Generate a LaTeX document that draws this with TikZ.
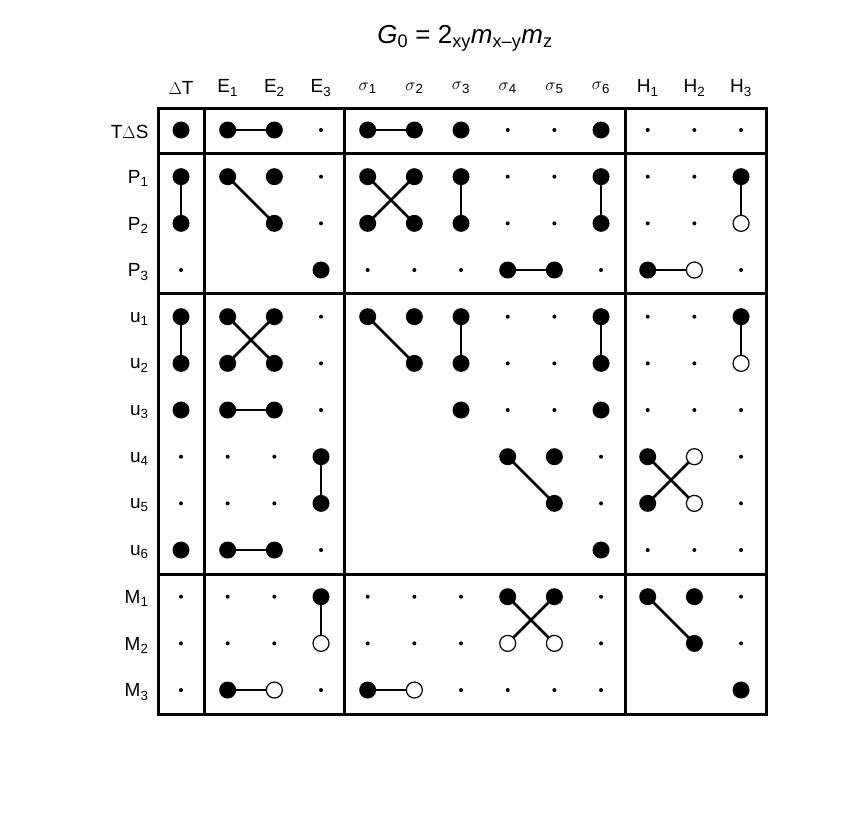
\documentclass[tikz,border=0pt]{standalone}
\usepackage{fontspec}
\setmainfont{Liberation Sans}
\usetikzlibrary{backgrounds}
\tikzset{
  cellb/.style={circle, fill=black, inner sep=0pt, minimum size=17pt},
  cello/.style={circle, draw=black, line width=1.2pt, fill=white, inner sep=0pt, minimum size=16pt},
  celld/.style={circle, fill=black, inner sep=0pt, minimum size=4pt},
  celln/.style={coordinate},
  link/.style={line width=2.6pt},
  frame/.style={line width=3pt},
  lbl/.style={font=\fontsize{19}{21}\selectfont}
}
\begin{document}
\begin{tikzpicture}[x=1pt, y=-1pt]
    \useasboundingbox (0,0) rectangle (856,812);
    \node[font=\fontsize{26}{28}\selectfont] (title) at (465,38)
      {\textit{G}\textsubscript{0} = 2\textsubscript{xy}\textit{m}\textsubscript{x\textendash y}\textit{m}\textsubscript{z}};

    % column and row headers
    \foreach \h [count=\i] in {$\Delta$T, E\textsubscript{1}, E\textsubscript{2}, E\textsubscript{3},
        $\sigma$\textsubscript{1}, $\sigma$\textsubscript{2}, $\sigma$\textsubscript{3},
        $\sigma$\textsubscript{4}, $\sigma$\textsubscript{5}, $\sigma$\textsubscript{6},
        H\textsubscript{1}, H\textsubscript{2}, H\textsubscript{3}}
      \node[lbl] (col\i) at ({181+(\i-1)*46.67}, 88) {\h};
    \foreach \h [count=\r] in {T$\Delta$S, P\textsubscript{1}, P\textsubscript{2}, P\textsubscript{3},
        u\textsubscript{1}, u\textsubscript{2}, u\textsubscript{3}, u\textsubscript{4},
        u\textsubscript{5}, u\textsubscript{6}, M\textsubscript{1}, M\textsubscript{2}, M\textsubscript{3}}
      \node[lbl, anchor=east] (row\r) at (152, {132+(\r-1)*46.67}) {\h};

    % cells: b filled, o open, d small dot, n empty
    \foreach \r/\codes in {
        1/{b,b,b,d,b,b,b,d,d,b,d,d,d},
        2/{b,b,b,d,b,b,b,d,d,b,d,d,b},
        3/{b,n,b,d,b,b,b,d,d,b,d,d,o},
        4/{d,n,n,b,d,d,d,b,b,d,b,o,d},
        5/{b,b,b,d,b,b,b,d,d,b,d,d,b},
        6/{b,b,b,d,n,b,b,d,d,b,d,d,o},
        7/{b,b,b,d,n,n,b,d,d,b,d,d,d},
        8/{d,d,d,b,n,n,n,b,b,d,b,o,d},
        9/{d,d,d,b,n,n,n,n,b,d,b,o,d},
        10/{b,b,b,d,n,n,n,n,n,b,d,d,d},
        11/{d,d,d,b,d,d,d,b,b,d,b,b,d},
        12/{d,d,d,o,d,d,d,o,o,d,n,b,d},
        13/{d,b,o,d,b,o,d,d,d,d,n,n,b}}
      \foreach \k [count=\i] in \codes
        \node[cell\k] (c\i-\r) at ({181+(\i-1)*46.67}, {130+(\r-1)*46.67}) {};

    % links behind the cells
    \begin{scope}[on background layer]
      \foreach \a/\b in {2-1/3-1, 5-1/6-1,
          1-2/1-3, 2-2/3-3, 5-2/6-3, 6-2/5-3, 7-2/7-3, 10-2/10-3, 13-2/13-3,
          8-4/9-4, 11-4/12-4,
          1-5/1-6, 2-5/3-6, 3-5/2-6, 5-5/6-6, 7-5/7-6, 10-5/10-6, 13-5/13-6,
          2-7/3-7, 4-8/4-9, 8-8/9-9, 11-8/12-9, 12-8/11-9, 2-10/3-10,
          4-11/4-12, 8-11/9-12, 9-11/8-12, 11-11/12-12, 2-13/3-13, 5-13/6-13}
        \draw[link] (c\a.center) -- (c\b.center);
    \end{scope}

    % frame
    \draw[frame] (158,108) rectangle (766,714);
    \foreach \x in {204, 344, 625}
      \draw[frame] (\x,108) -- (\x,714);
    \foreach \y in {153, 293, 574}
      \draw[frame] (158,\y) -- (766,\y);
\end{tikzpicture}
\end{document}
